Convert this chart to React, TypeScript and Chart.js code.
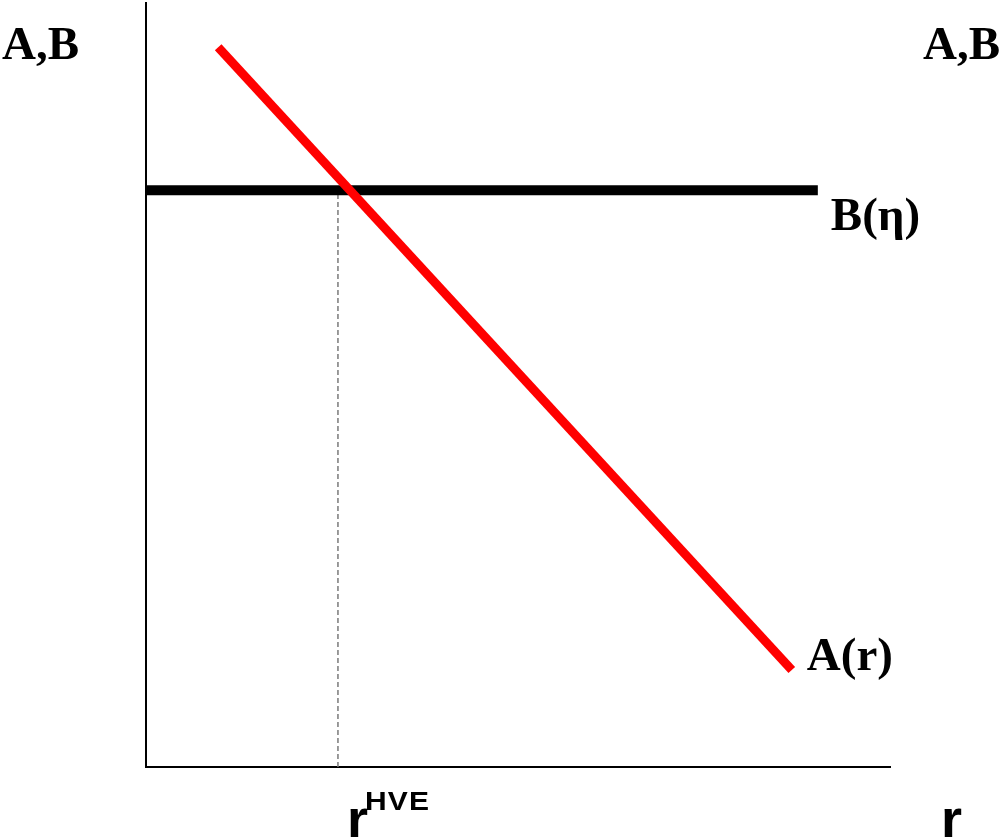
import React, { useEffect, useRef } from "react";
import { Chart, registerables } from "chart.js";

Chart.register(...registerables);

// Data (axis units 0..10 on both axes)
const xRange = [0, 10];
const yRange = [0, 10];
const curveA_x = [0.97, 8.68];
const curveA_y = [9.42, 1.27];
const curveB_x = [0, 9.03];
const curveB_y = [7.55, 7.55];
const rHVE_x = [2.58, 2.58];
const rHVE_y = [0, 7.55];

const labelA = "A(r)";
const labelB = "B(\u03b7)";
const yAxisLabel = "A,B";
const xAxisLabel = "r";
const eqLabel = "r";
const eqSup = "HVE";

const toPts = (xs: number[], ys: number[]) => xs.map((x, i) => ({ x, y: ys[i] }));

const textPlugin = {
  id: "textLabels",
  afterDraw(chart: any) {
    const ctx = chart.ctx;
    const xs = chart.scales.x;
    const ys = chart.scales.y;
    ctx.save();
    ctx.fillStyle = "#000";
    ctx.textBaseline = "alphabetic";
    ctx.textAlign = "left";
    const serif = "bold 47px 'Liberation Serif', 'Times New Roman', serif";
    ctx.font = serif;
    ctx.fillText(yAxisLabel, 2, 59);
    ctx.fillText(yAxisLabel, 923, 59);
    // B label near end of B line
    const bx = xs.getPixelForValue(curveB_x[1]);
    const by = ys.getPixelForValue(curveB_y[1]);
    ctx.fillText(labelB, bx + 13, by + 40);
    // A label near end of A line
    const ax = xs.getPixelForValue(curveA_x[1]);
    const ay = ys.getPixelForValue(curveA_y[1]);
    ctx.fillText(labelA, ax + 15, ay + 0);
    // r^HVE under dashed line
    const sans = "bold 54px 'Liberation Sans', Arial, sans-serif";
    ctx.font = sans;
    const dx = xs.getPixelForValue(rHVE_x[0]);
    ctx.fillText(eqLabel, dx + 9, 837);
    ctx.save();
    ctx.font = "bold 25px 'Liberation Sans', Arial, sans-serif";
    ctx.translate(dx + 27, 810);
    ctx.scale(1.2, 1);
    (ctx as any).letterSpacing = "1px";
    ctx.fillText(eqSup, 0, 0);
    ctx.restore();
    ctx.font = sans;
    ctx.fillText(xAxisLabel, 941, 837);
    ctx.restore();
  },
};

export default function App() {
  const ref = useRef<HTMLCanvasElement>(null);
  useEffect(() => {
    if (!ref.current) return;
    const chart = new Chart(ref.current, {
      type: "line",
      data: {
        datasets: [
          {
            label: labelA,
            data: toPts(curveA_x, curveA_y),
            borderColor: "#ff0000",
            borderWidth: 9,
            pointRadius: 0,
            borderCapStyle: "butt",
            order: 0,
          },
          {
            label: labelB,
            data: toPts(curveB_x, curveB_y),
            borderColor: "#000000",
            borderWidth: 10,
            pointRadius: 0,
            order: 1,
          },
          {
            label: "rHVE",
            data: toPts(rHVE_x, rHVE_y),
            borderColor: "#7a7a7a",
            borderWidth: 1.5,
            borderDash: [5, 3],
            pointRadius: 0,
            order: 2,
          },
        ],
      },
      options: {
        responsive: false,
        animation: false,
        layout: { padding: { left: 146, right: 115, top: 3, bottom: 70 } },
        plugins: { legend: { display: false }, tooltip: { enabled: false } },
        scales: {
          x: {
            type: "linear",
            min: xRange[0],
            max: xRange[1],
            grid: { display: false, drawTicks: false, tickLength: 0 },
            ticks: { display: false },
            border: { display: true, color: "#000", width: 2 },
          },
          y: {
            type: "linear",
            min: yRange[0],
            max: yRange[1],
            grid: { display: false, drawTicks: false, tickLength: 0 },
            ticks: { display: false },
            border: { display: true, color: "#000", width: 2 },
          },
        },
      },
      plugins: [textPlugin],
    });
    return () => chart.destroy();
  }, []);
  return (
    <div style={{ position: "absolute", left: 0, top: 0, width: 1005, height: 837, background: "#fff" }}>
      <canvas ref={ref} width={1005} height={837} />
    </div>
  );
}
